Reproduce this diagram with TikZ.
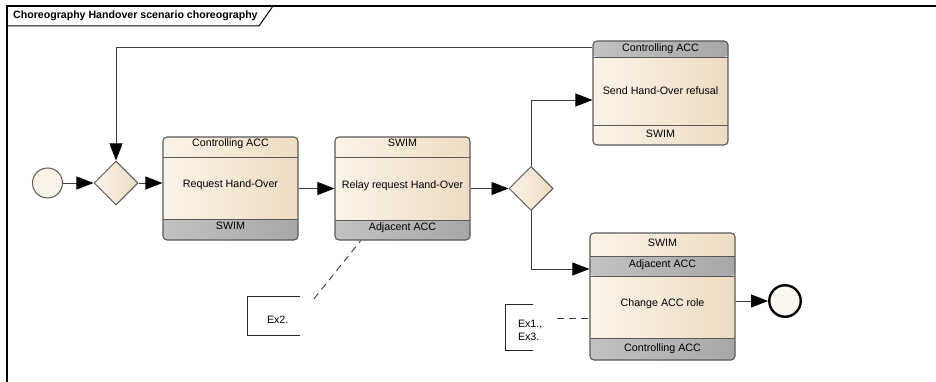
\documentclass[tikz,border=0pt]{standalone}
\usepackage{fontspec}
\setmainfont{Liberation Sans}
\usetikzlibrary{shapes.geometric,arrows.meta,positioning}

\definecolor{creamL}{HTML}{FBF3E8}
\definecolor{creamR}{HTML}{EEDCC3}
\definecolor{laneL}{HTML}{C2C2C2}
\definecolor{laneR}{HTML}{A7A7A7}
\definecolor{taskline}{HTML}{595959}
\definecolor{flowline}{HTML}{3C3C3C}

% separator lines and grey lanes inside a task (distances from its top edge)
\newcommand\laneline[1]{\draw[draw=taskline, line width=0.9pt] ([yshift=-#1]path picture bounding box.north west) -- ([yshift=-#1]path picture bounding box.north east);}
\newcommand\lanefill[2]{\shade[left color=laneL, right color=laneR] ([yshift=-#1]path picture bounding box.north west) rectangle ([yshift=-#2]path picture bounding box.north east);
  \laneline{#1}\laneline{#2}}

\tikzset{
  task/.style={draw=taskline, line width=1.1pt, rounded corners=4pt, left color=creamL, right color=creamR, inner sep=0pt},
  lane/.style={font=\fontsize{10.7}{12.5}\selectfont, text height=7.5pt, text depth=2pt, inner sep=0pt},
  notetext/.style={font=\fontsize{10.7}{12.5}\selectfont, align=left, inner sep=0pt},
  gateway/.style={diamond, draw=taskline, line width=1pt, left color=creamL, right color=creamR, minimum width=44pt, minimum height=44pt, inner sep=0pt},
  flow/.style={draw=flowline, line width=0.9pt, -{Triangle[length=17pt,width=13pt,color=black]}},
  notelink/.style={draw=flowline, line width=0.9pt, dash pattern=on 7pt off 5pt},
  notebracket/.style={draw=black!85, line width=0.9pt},
  frame/.style={draw=black, line width=1.2pt},
}

\begin{document}
\begin{tikzpicture}[x=1pt, y=-1pt]
  \useasboundingbox (0,0) rectangle (936,382);

  % diagram frame
  \draw[frame] (7,382) -- (7,6) -- (936,6);
  \draw[draw=black, line width=1pt] (7,26) -- (259,26) -- (273,6);
  \node[font=\bfseries\fontsize{10.6}{12}\selectfont, anchor=west, inner sep=0pt] (title) at (13,16) {Choreography Handover scenario choreography};

  % events and gateways
  \node[circle, draw=taskline, line width=1pt, fill=creamL, minimum size=30pt, inner sep=0pt] (start) at (47.5,183) {};
  \node[gateway] (split) at (116,183) {};
  \node[gateway] (choice) at (531,188.5) {};
  \node[circle, draw=black, line width=2.4pt, fill=creamL!70!white, minimum size=31.5pt, inner sep=0pt] (end) at (785,301) {};

  % choreography tasks
  \node[task, minimum width=135pt, minimum height=103pt,
    path picture={\laneline{20pt}\lanefill{82pt}{110pt}}] (req) at (230.5,188.5) {};
  \node[lane] (req-top) at ([yshift=-7.5pt]req.north) {Controlling ACC};
  \node[lane] (req-name) at ([yshift=3.5pt]req.center) {Request Hand-Over};
  \node[lane] (req-bottom) at ([yshift=13.5pt]req.south) {SWIM};

  \node[task, minimum width=135pt, minimum height=103pt,
    path picture={\laneline{20pt}\lanefill{83pt}{110pt}}] (relay) at (402.5,188.5) {};
  \node[lane] (relay-top) at ([yshift=-7.5pt]relay.north) {SWIM};
  \node[lane] (relay-name) at ([yshift=2.5pt]relay.center) {Relay request Hand-Over};
  \node[lane] (relay-bottom) at ([yshift=12.5pt]relay.south) {Adjacent ACC};

  \node[task, minimum width=135pt, minimum height=104pt,
    path picture={\lanefill{-5pt}{16pt}\laneline{84pt}}] (send) at (660.5,93) {};
  \node[lane] (send-top) at ([yshift=-8.5pt]send.north) {Controlling ACC};
  \node[lane] (send-name) at ([yshift=1pt]send.center) {Send Hand-Over refusal};
  \node[lane] (send-bottom) at ([yshift=10.5pt]send.south) {SWIM};

  \node[task, minimum width=145pt, minimum height=127pt,
    path picture={\lanefill{23pt}{43pt}\lanefill{105pt}{135pt}}] (change) at (662.5,296.5) {};
  \node[lane] (change-top) at ([yshift=-11pt]change.north) {SWIM};
  \node[lane] (change-second) at ([yshift=-32pt]change.north) {Adjacent ACC};
  \node[lane] (change-name) at ([yshift=-7.5pt]change.center) {Change ACC role};
  \node[lane] (change-bottom) at ([yshift=12pt]change.south) {Controlling ACC};

  % sequence flows
  \draw[flow] (start) -- (split);
  \draw[flow] (split.east) -- (split.east -| req.west);
  \draw[flow] (req) -- (relay);
  \draw[flow] (relay.east) -- (relay.east -| choice.west);
  \draw[flow] (choice.north) |- ([yshift=-7pt]send.west);
  \draw[flow] (choice.south) |- ([yshift=27.5pt]change.west);
  \draw[flow] ([yshift=46pt]send.west) -| (split.north);
  \draw[flow] (end.west -| change.east) -- (end.west);

  % annotations
  \node[inner sep=0pt, minimum width=52pt, minimum height=38pt] (ex2) at (274,316) {};
  \draw[notebracket] (ex2.north east) -- (ex2.north west) -- (ex2.south west) -- (ex2.south east);
  \node[lane, anchor=west] (ex2-text) at ([xshift=19pt,yshift=-5pt]ex2.west) {Ex2.};
  \draw[notelink, shorten <=22pt] (ex2.east) -- (relay);

  \node[inner sep=0pt, minimum width=27pt, minimum height=45pt] (ex13) at (519.5,327.5) {};
  \draw[notebracket] (ex13.north east) -- (ex13.north west) -- (ex13.south west) -- (ex13.south east);
  \node[notetext, anchor=west] (ex13-text) at ([xshift=12pt,yshift=-3pt]ex13.west) {Ex1.,\\Ex3.};
  \coordinate (ex13-link) at ([xshift=24pt,yshift=9.5pt]ex13.east);
  \draw[notelink] (ex13-link) -- (ex13-link -| change.west);
\end{tikzpicture}
\end{document}
